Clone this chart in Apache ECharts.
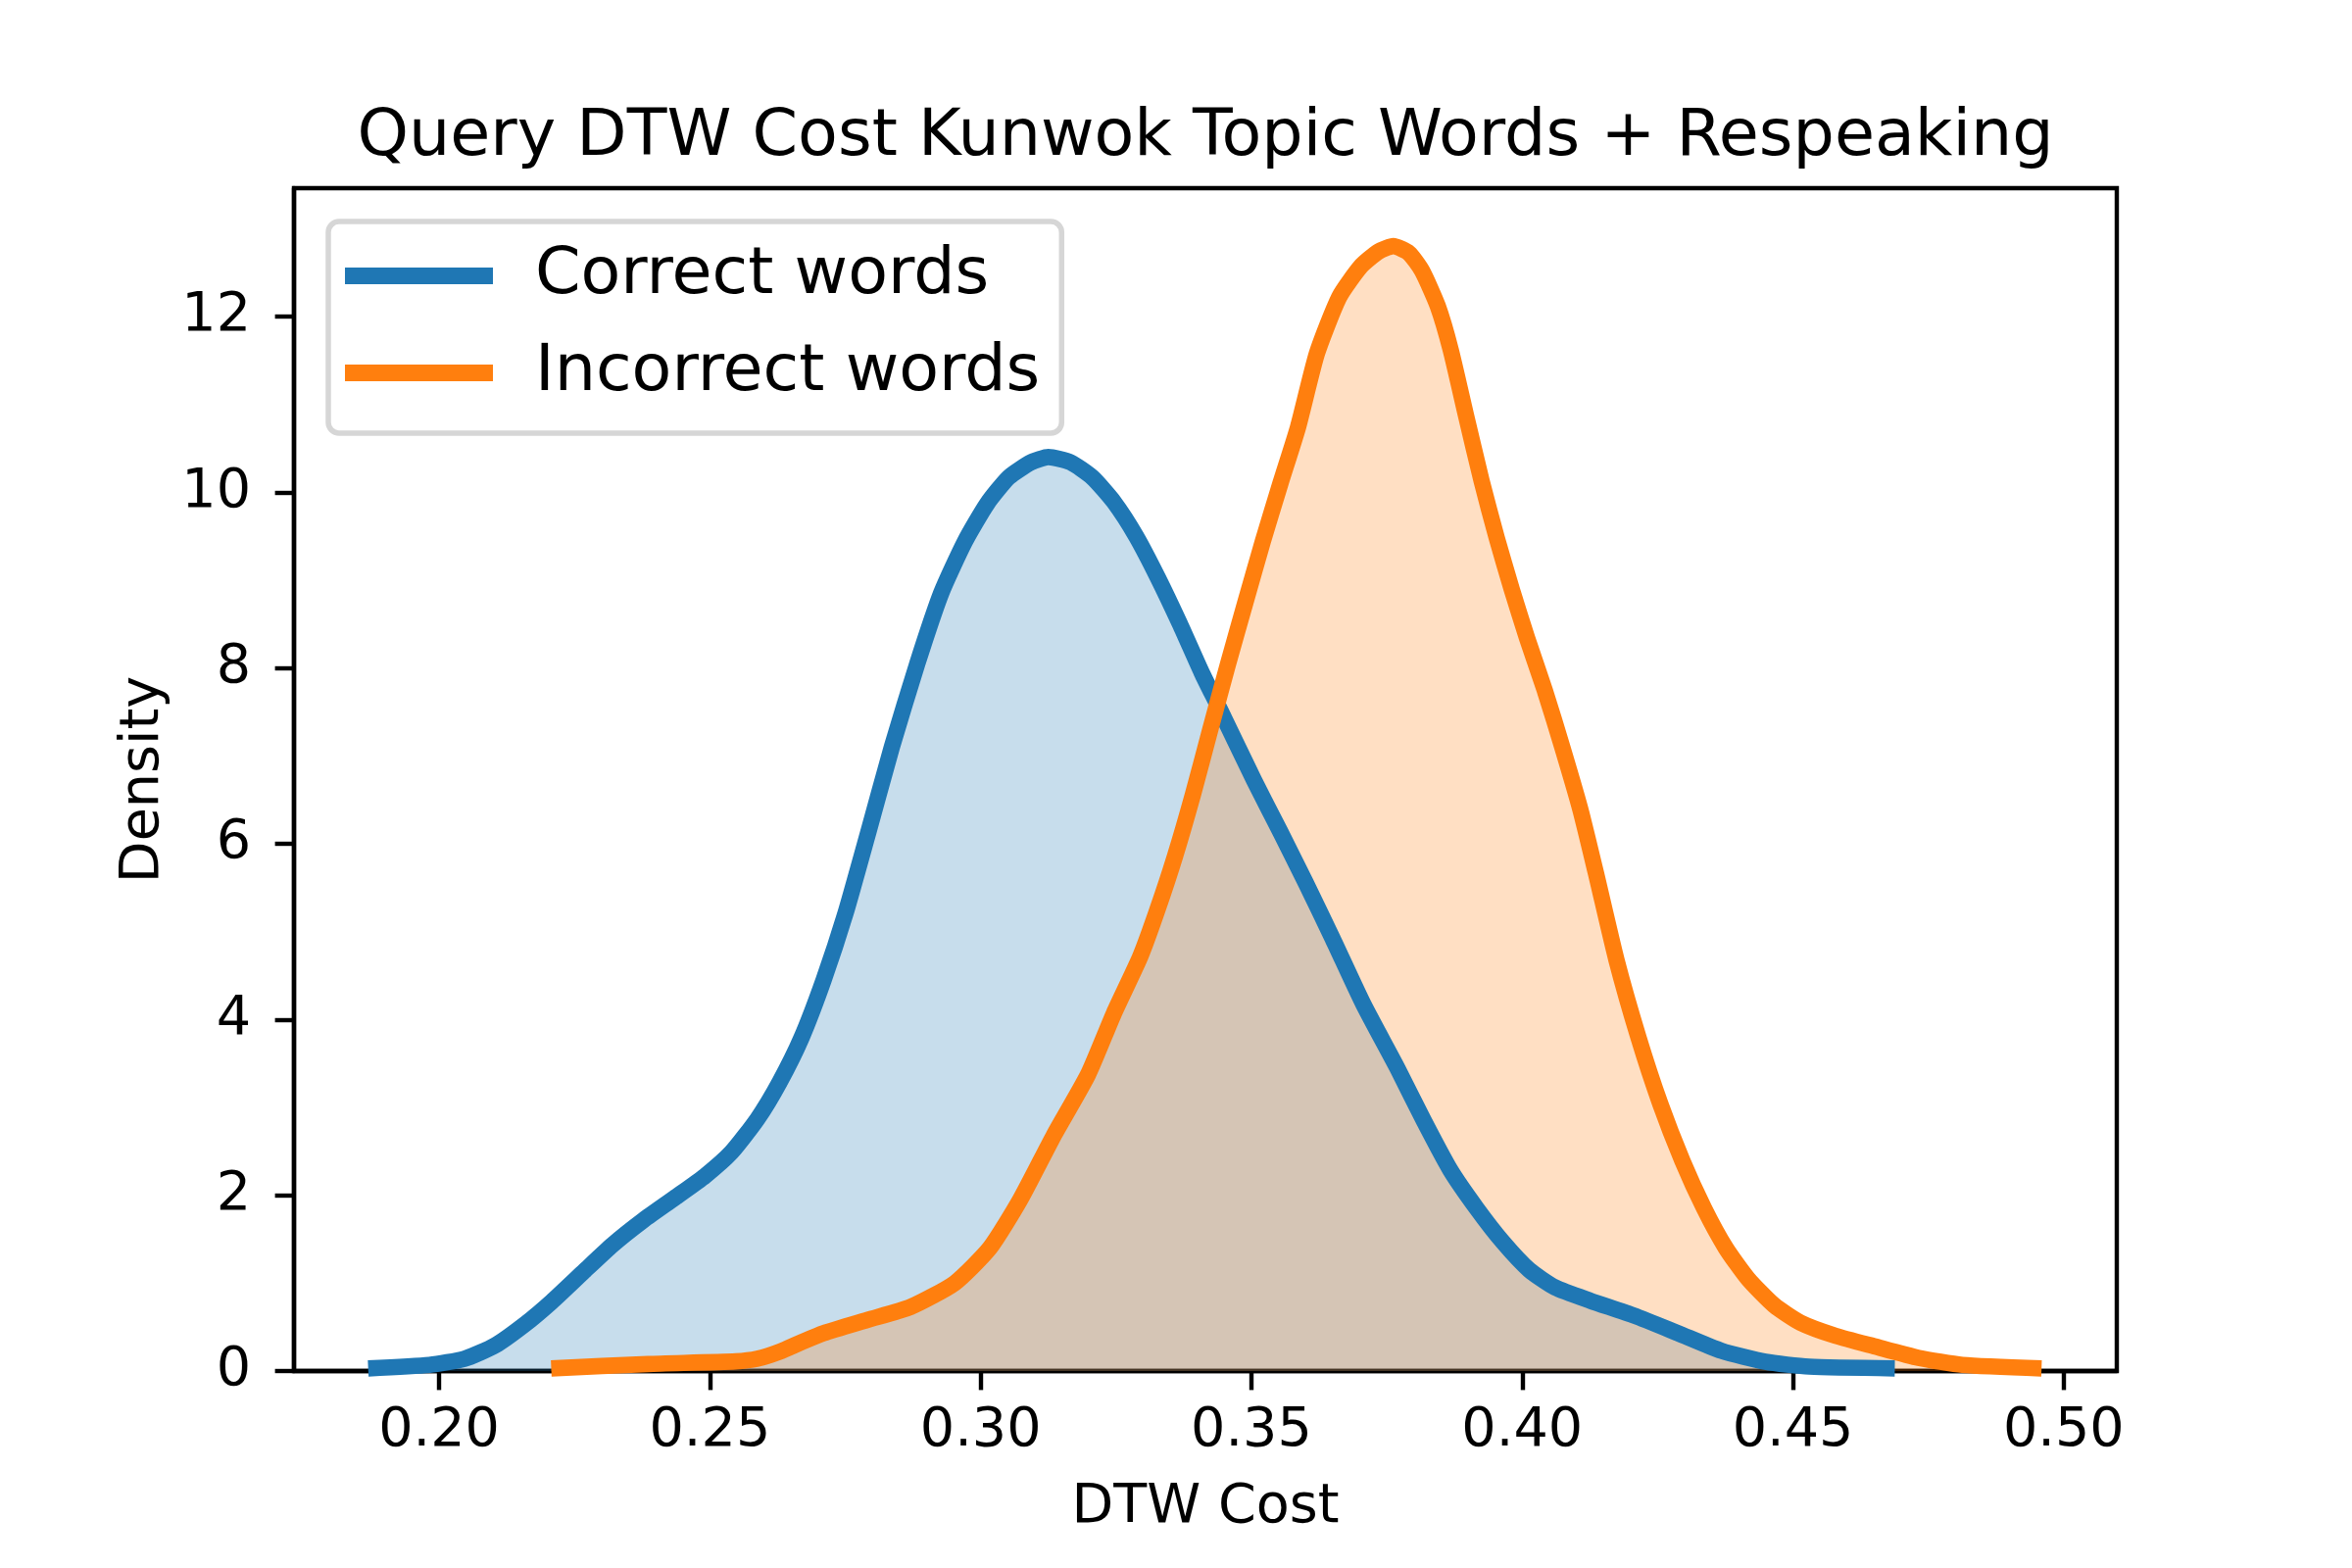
<!DOCTYPE html>
<html>
<head>
<meta charset="utf-8">
<script src="https://cdn.jsdelivr.net/npm/echarts@6/dist/echarts.min.js"></script>
<style>
html,body{margin:0;padding:0;background:#fff;}
#chart{width:2400px;height:1600px;}
</style>
</head>
<body>
<div id="chart"></div>
<script>
// ---- data ----
const titleText = 'Query DTW Cost Kunwok Topic Words + Respeaking';
const seriesNames = ['Correct words', 'Incorrect words'];
const xTicks = [0.20, 0.25, 0.30, 0.35, 0.40, 0.45, 0.50];
const yTicks = [0, 2, 4, 6, 8, 10, 12];

const correctX = [0.1869,0.1982,0.2047,0.2103,0.2160,0.2208,0.2265,0.2321,0.2378,0.2435,0.2491,0.2540,0.2588,0.2629,0.2669,0.2710,0.2750,0.2792,0.2836,0.2883,0.2927,0.2971,0.3012,0.3052,0.3093,0.3125,0.3166,0.3206,0.3246,0.3287,0.3327,0.3368,0.3408,0.3440,0.3505,0.3553,0.3600,0.3650,0.3707,0.3770,0.3819,0.3867,0.3916,0.3964,0.4013,0.4061,0.4126,0.4207,0.4288,0.4368,0.4449,0.4530,0.4688];
const correctY = [0.03,0.07,0.14,0.29,0.54,0.79,1.12,1.44,1.72,1.97,2.22,2.49,2.87,3.29,3.79,4.45,5.20,6.12,7.10,8.05,8.85,9.44,9.87,10.17,10.34,10.40,10.34,10.17,9.89,9.50,9.03,8.50,7.95,7.55,6.72,6.14,5.56,4.92,4.17,3.44,2.84,2.29,1.85,1.47,1.15,0.95,0.80,0.63,0.43,0.23,0.105,0.05,0.03];

const incorrectX = [0.2207,0.2386,0.2548,0.2588,0.2629,0.2670,0.2710,0.2790,0.2871,0.2952,0.3017,0.3073,0.3135,0.3198,0.3246,0.3295,0.3327,0.3359,0.3392,0.3424,0.3457,0.3489,0.3521,0.3553,0.3586,0.3621,0.3662,0.3702,0.3735,0.3762,0.3791,0.3815,0.3844,0.3868,0.3896,0.3925,0.3953,0.3981,0.4009,0.4042,0.4074,0.4107,0.4136,0.4174,0.4215,0.4255,0.4296,0.4336,0.4376,0.4417,0.4465,0.4514,0.4579,0.4651,0.4732,0.4813,0.4959];
const incorrectY = [0.03,0.08,0.11,0.14,0.22,0.33,0.43,0.58,0.73,1.00,1.40,1.95,2.68,3.37,4.07,4.72,5.26,5.86,6.56,7.30,8.05,8.75,9.44,10.09,10.74,11.58,12.22,12.57,12.74,12.80,12.72,12.52,12.12,11.62,10.88,10.13,9.48,8.89,8.34,7.74,7.10,6.40,5.67,4.68,3.79,3.04,2.39,1.85,1.40,1.05,0.75,0.55,0.40,0.28,0.15,0.07,0.03];

const xMin = 0.1732, xMax = 0.5098;
const yMin = 0, yMax = 13.46;

// ---- build ----
const pairs = (xs, ys) => xs.map((x, i) => [x, ys[i]]);
const colors = ['#1f77b4', '#ff7f0e'];
const FONT = 'DejaVu Sans';
const SMOOTH = 0.2;

function fillSeries(name, data, color, z) {
  return {
    name: name + ' (fill)', type: 'line', data: data,
    showSymbol: false, symbol: 'none', smooth: SMOOTH, clip: true,
    lineStyle: {width: 0, opacity: 0},
    areaStyle: {color: color, opacity: 0.25, origin: 'start'},
    silent: true, z: z
  };
}
function lineSeries(name, data, color, z) {
  return {
    name: name, type: 'line', data: data,
    showSymbol: false, symbol: 'none', smooth: SMOOTH, clip: true,
    color: color,
    lineStyle: {color: color, width: 16.7, join: 'round'},
    z: z
  };
}

const dCorrect = pairs(correctX, correctY);
const dIncorrect = pairs(incorrectX, incorrectY);

const chart = echarts.init(document.getElementById('chart'), null, {renderer: 'canvas'});
const option = {
  backgroundColor: '#ffffff',
  animation: false,
  title: {
    text: titleText,
    left: 1230,
    top: 107,
    textAlign: 'center',
    padding: 0,
    textStyle: {fontFamily: FONT, fontSize: 66.7, fontWeight: 'normal', color: '#000'}
  },
  legend: {
    orient: 'vertical',
    left: 335,
    top: 226,
    padding: [22, 22, 28, 17],
    itemGap: 32,
    itemWidth: 151,
    itemHeight: 17,
    icon: 'rect',
    backgroundColor: 'rgba(255,255,255,0.8)',
    borderColor: '#d6d6d6',
    borderWidth: 5.5,
    borderRadius: 11,
    data: seriesNames,
    textStyle: {fontFamily: FONT, fontSize: 66.7, lineHeight: 57, color: '#000', padding: [10, 0, 0, 38]}
  },
  grid: {
    left: 300, right: 240, top: 192, bottom: 201,
    show: true, borderColor: '#000', borderWidth: 4.4, backgroundColor: 'transparent'
  },
  xAxis: {
    type: 'value',
    min: xMin, max: xMax,
    name: 'DTW Cost',
    nameLocation: 'middle',
    nameGap: 112,
    nameTextStyle: {fontFamily: FONT, fontSize: 55.6, color: '#000'},
    axisLine: {show: true, onZero: false, lineStyle: {color: '#000', width: 4.4}},
    axisTick: {show: true, length: 19.4, lineStyle: {color: '#000', width: 4.4}, customValues: xTicks},
    axisLabel: {show: true, margin: 34, customValues: xTicks,
      fontFamily: FONT, fontSize: 55.6, color: '#000',
      formatter: v => v.toFixed(2)},
    splitLine: {show: false}
  },
  yAxis: {
    type: 'value',
    min: yMin, max: yMax,
    name: 'Density',
    nameLocation: 'middle',
    nameGap: 123,
    nameRotate: 90,
    nameTextStyle: {fontFamily: FONT, fontSize: 55.6, color: '#000'},
    axisLine: {show: true, onZero: false, lineStyle: {color: '#000', width: 4.4}},
    axisTick: {show: true, length: 19.4, lineStyle: {color: '#000', width: 4.4}, customValues: yTicks},
    axisLabel: {show: true, margin: 44, customValues: yTicks,
      fontFamily: FONT, fontSize: 55.6, color: '#000',
      formatter: v => String(Math.round(v))},
    splitLine: {show: false}
  },
  series: [
    fillSeries(seriesNames[0], dCorrect, colors[0], 1),
    fillSeries(seriesNames[1], dIncorrect, colors[1], 1),
    lineSeries(seriesNames[0], dCorrect, colors[0], 2),
    lineSeries(seriesNames[1], dIncorrect, colors[1], 3)
  ]
};
chart.setOption(option);
</script>
</body>
</html>
